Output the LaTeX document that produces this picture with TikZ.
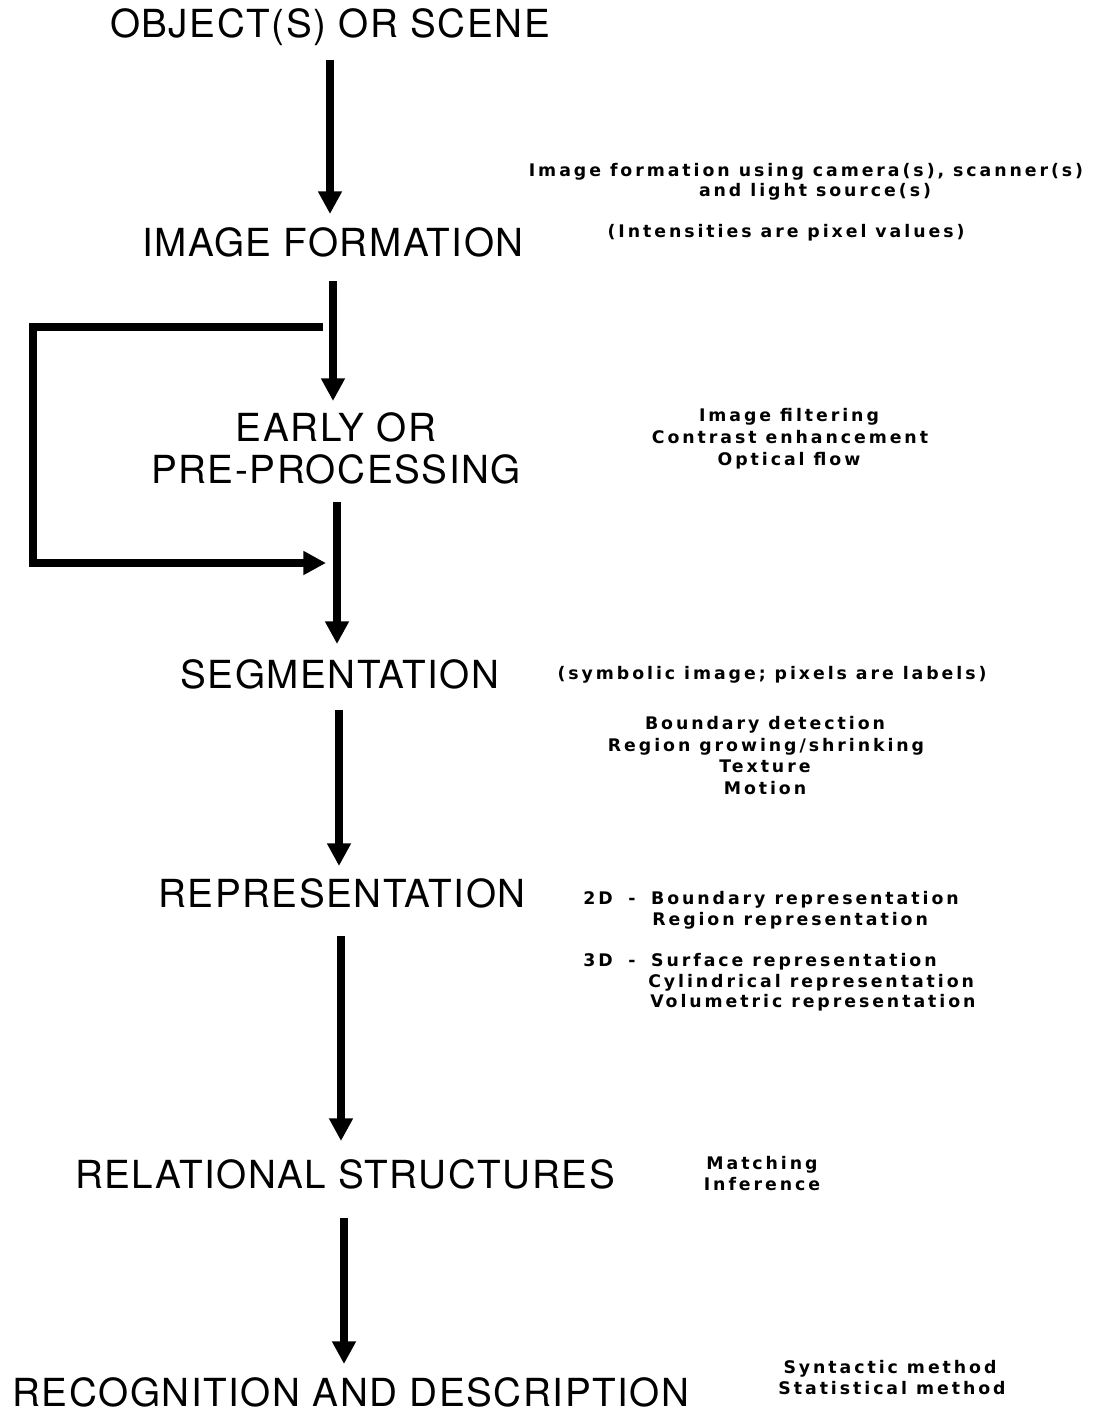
\documentclass[tikz,border=0pt]{standalone}
\usepackage{fontspec}
\setmainfont{TeX Gyre Heros}
\newfontfamily\notefam[LetterSpace=17]{DejaVu Sans Bold}
\usetikzlibrary{arrows.meta}
\newcommand{\mainlbl}{\fontsize{29pt}{34pt}\selectfont\addfontfeatures{LetterSpace=4}}
\newcommand{\notelbl}{\notefam\fontsize{13pt}{15pt}\selectfont}
\begin{document}
\begin{tikzpicture}[x=0.75pt,y=-0.75pt,
  mainlab/.style={font=\mainlbl, anchor=base, inner sep=0pt},
  notelab/.style={font=\notelbl, anchor=base, inner sep=0pt},
  noteleft/.style={notelab, anchor=base west},
  arr/.style={line width=6pt, -{Triangle[width=17pt,length=17pt]}},
  fb/.style={line width=5.5pt, line join=miter, -{Triangle[width=17pt,length=17pt]}}]
\useasboundingbox (0,0) rectangle (1096,1413);
% main labels
\node[mainlab] (obj) at (330,38) {OBJECT(S) OR SCENE};
\node[mainlab] (img) at (333,256) {IMAGE FORMATION};
\node[mainlab] (early) at (336,441) {EARLY OR};
\node[mainlab] (pre) at (336,483) {PRE-PROCESSING};
\node[mainlab] (seg) at (340,688) {SEGMENTATION};
\node[mainlab] (rep) at (342,907) {REPRESENTATION};
\node[mainlab] (rel) at (345,1188) {RELATIONAL STRUCTURES};
\node[mainlab] (rec) at (351,1406) {RECOGNITION AND DESCRIPTION};
% arrow end points
\coordinate (a1s) at (330,60);   \coordinate (a1e) at (330,214);
\coordinate (a2s) at (333,281);  \coordinate (a2e) at (333,401);
\coordinate (a3s) at (337,502);  \coordinate (a3e) at (337,644);
\coordinate (a4s) at (339,710);  \coordinate (a4e) at (339,866);
\coordinate (a5s) at (341,936);  \coordinate (a5e) at (341,1141);
\coordinate (a6s) at (344,1218); \coordinate (a6e) at (344,1364);
\draw[arr] (a1s) -- (a1e);
\draw[arr] (a2s) -- (a2e);
\draw[arr] (a3s) -- (a3e);
\draw[arr] (a4s) -- (a4e);
\draw[arr] (a5s) -- (a5e);
\draw[arr] (a6s) -- (a6e);
% feedback loop
\coordinate (fbs) at (323,327);
\coordinate (fbc1) at (33,327);
\coordinate (fbc2) at (33,563);
\coordinate (fbe) at (326,563);
\draw[fb] (fbs) -- (fbc1) -- (fbc2) -- (fbe);
% notes
\node[notelab] (n1a) at (806,176) {Image formation using camera(s), scanner(s)};
\node[notelab] (n1b) at (815,196) {and light source(s)};
\node[notelab] (n1c) at (786,237) {(Intensities are pixel values)};
\node[notelab] (n2a) at (789,421) {Image filtering};
\node[notelab] (n2b) at (790,443) {Contrast enhancement};
\node[notelab] (n2c) at (789,465) {Optical flow};
\node[notelab] (n3a) at (772,679) {(symbolic image; pixels are labels)};
\node[notelab] (n4a) at (765,729) {Boundary detection};
\node[notelab] (n4b) at (766,751) {Region growing/shrinking};
\node[notelab] (n4c) at (765,772) {Texture};
\node[notelab] (n4d) at (765,794) {Motion};
\node[noteleft] (n5a) at (583,904) {2D\hspace{5pt} - \hspace{5pt}Boundary representation};
\node[noteleft] (n5b) at (652,925) {Region representation};
\node[noteleft] (n5c) at (583,966) {3D\hspace{5pt} - \hspace{5pt}Surface representation};
\node[noteleft] (n5d) at (648,987) {Cylindrical representation};
\node[noteleft] (n5e) at (650,1007) {Volumetric representation};
\node[notelab] (n6a) at (762,1169) {Matching};
\node[notelab] (n6b) at (762,1190) {Inference};
\node[notelab] (n7a) at (890,1373) {Syntactic method};
\node[notelab] (n7b) at (892,1394) {Statistical method};
\end{tikzpicture}
\end{document}
